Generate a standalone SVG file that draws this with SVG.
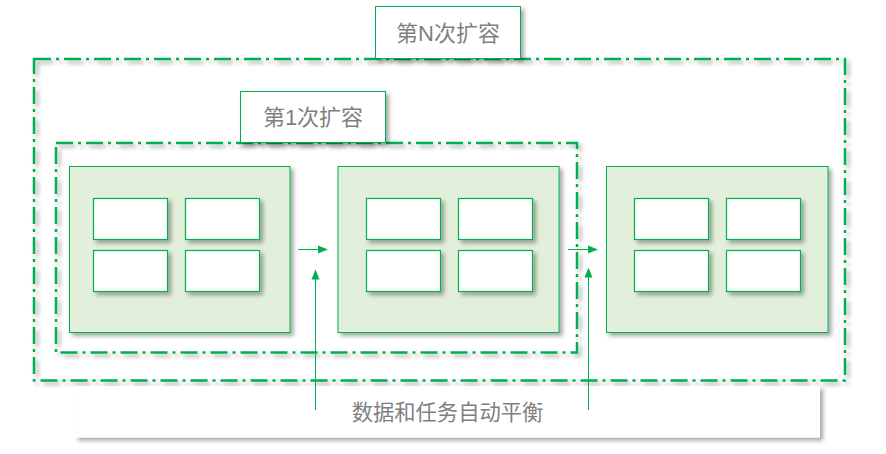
<svg xmlns="http://www.w3.org/2000/svg" width="886" height="454" viewBox="0 0 886 454">
<defs>
<filter id="sh" x="-10%" y="-10%" width="130%" height="140%">
<feDropShadow dx="3" dy="3" stdDeviation="2" flood-color="#000" flood-opacity="0.35"/>
</filter>
<marker id="ah" viewBox="0 0 10 10" refX="9" refY="5" markerWidth="10" markerHeight="10" markerUnits="userSpaceOnUse" orient="auto">
<path d="M0,1 L10,5 L0,9 Z" fill="#00B050"/>
</marker>
<style>
.dd{fill:none;stroke:#00B050;stroke-width:2.5;stroke-dasharray:17 5 3 5;filter:url(#sh)}
.big{fill:#E2EFDA;stroke:#00B050;stroke-width:1;filter:url(#sh)}
.cell{fill:#fff;stroke:#00B050;stroke-width:1.2;filter:url(#sh)}
.lab{fill:#fff;stroke:#00B050;stroke-width:1;filter:url(#sh)}
.txt{font-family:"Liberation Sans","Noto Sans CJK SC",sans-serif;fill:#7F7F7F;text-anchor:middle}
.ln{fill:none;stroke:#00B050;stroke-width:1}
</style>
</defs>
<g id="scaleN">
<rect class="dd" x="34" y="59" width="811" height="321.5"/>
</g>
<g id="labelN">
<rect class="lab" x="375.5" y="6.5" width="145" height="52"/>
<text class="txt" x="448" y="41" font-size="22">第N次扩容</text>
</g>
<g id="scale1">
<rect class="dd" x="56" y="143" width="521" height="209.5"/>
</g>
<g id="label1">
<rect class="lab" x="240.5" y="91.5" width="145" height="51"/>
<text class="txt" x="313" y="125" font-size="22">第1次扩容</text>
</g>
<g id="server1">
<rect class="big" x="69.5" y="166.5" width="220.5" height="166"/>
<rect class="cell" x="93.5" y="198.5" width="74" height="41"/>
<rect class="cell" x="185.5" y="198.5" width="74" height="41"/>
<rect class="cell" x="93.5" y="250.5" width="74" height="41"/>
<rect class="cell" x="185.5" y="250.5" width="74" height="41"/>
</g>
<g id="server2">
<rect class="big" x="338" y="166.5" width="221" height="166"/>
<rect class="cell" x="366.5" y="198.5" width="74" height="41"/>
<rect class="cell" x="458.5" y="198.5" width="74" height="41"/>
<rect class="cell" x="366.5" y="250.5" width="74" height="41"/>
<rect class="cell" x="458.5" y="250.5" width="74" height="41"/>
</g>
<g id="server3">
<rect class="big" x="606.5" y="166.5" width="221.5" height="166"/>
<rect class="cell" x="634.5" y="198.5" width="74" height="41"/>
<rect class="cell" x="726.5" y="198.5" width="74" height="41"/>
<rect class="cell" x="634.5" y="250.5" width="74" height="41"/>
<rect class="cell" x="726.5" y="250.5" width="74" height="41"/>
</g>
<g id="balance">
<rect x="75" y="386" width="745" height="51.5" fill="#fff" filter="url(#sh)"/>
<text class="txt" x="447.5" y="420" font-size="21.3">数据和任务自动平衡</text>
</g>
<g id="connectors">
<line class="ln" x1="298" y1="249.5" x2="327" y2="249.5" marker-end="url(#ah)"/>
<line class="ln" x1="568" y1="249.5" x2="597" y2="249.5" marker-end="url(#ah)"/>
<line class="ln" x1="315.5" y1="410" x2="315.5" y2="270.5" marker-end="url(#ah)"/>
<line class="ln" x1="588.5" y1="410" x2="588.5" y2="268.5" marker-end="url(#ah)"/>
</g>
</svg>
